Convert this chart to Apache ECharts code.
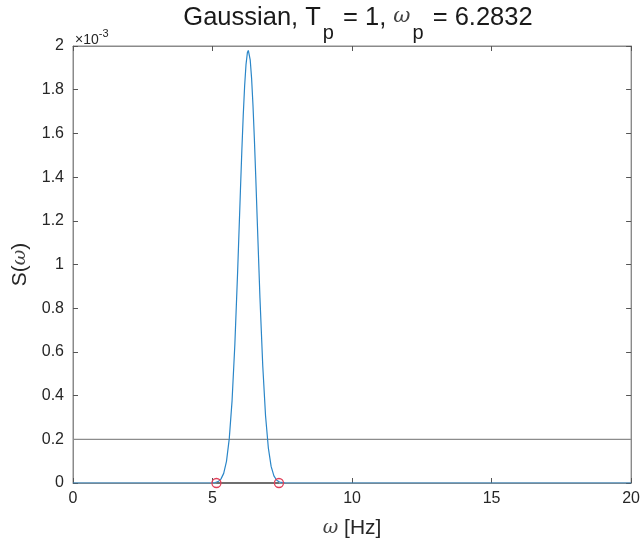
<!DOCTYPE html>
<html>
<head>
<meta charset="utf-8">
<script src="https://cdn.jsdelivr.net/npm/echarts@6/dist/echarts.min.js"></script>
<style>html,body{margin:0;padding:0;background:#fff}#c{width:643px;height:544px}</style>
</head>
<body>
<div id="c"></div>
<script>
// Spectrum S(omega), values in units of 1e-3
var omega = [0, 4.8, 5.0, 5.1, 5.2, 5.3, 5.4, 5.5, 5.6, 5.7, 5.8, 5.9, 6.0, 6.05, 6.1, 6.15, 6.2, 6.25, 6.283, 6.3, 6.35, 6.4, 6.45, 6.5, 6.55, 6.6, 6.7, 6.8, 6.9, 7.0, 7.1, 7.2, 7.3, 7.4, 7.5, 7.6, 7.8, 20];
var S = [0, 0, 0.0006, 0.0021, 0.0064, 0.0177, 0.044, 0.099, 0.203, 0.376, 0.634, 0.968, 1.339, 1.519, 1.681, 1.816, 1.915, 1.970, 1.98, 1.977, 1.937, 1.852, 1.728, 1.573, 1.398, 1.212, 0.847, 0.537, 0.308, 0.161, 0.076, 0.0326, 0.0127, 0.0045, 0.0014, 0.0004, 0, 0];
// threshold line
var thrX = [0, 20];
var thrY = [0.2, 0.2];
// band limits (markers)
var bandX = [5.14, 7.38];
var bandY = [0, 0];
var xTicks = [0, 5, 10, 15, 20];
var yTicks = [0, 0.2, 0.4, 0.6, 0.8, 1, 1.2, 1.4, 1.6, 1.8, 2];

function zip(a, b) { return a.map(function (v, i) { return [v, b[i]]; }); }

var font = 'Liberation Sans, Arial, Helvetica, sans-serif';
var greek = 'DejaVu Serif, serif';
var axisCol = '#8a8a8a';
var txtCol = '#262626';
var tickStyle = {show: true, inside: true, length: 5, lineStyle: {color: '#555', width: 1}};

var chart = echarts.init(document.getElementById('c'), null, {renderer: 'canvas'});
chart.setOption({
  animation: false,
  backgroundColor: '#fff',
  title: {
    text: '{t|Gaussian, T}{s|p}{t| = 1, }{w|ω}{s|p}{t| = 6.2832}',
    left: 353, top: 0, textAlign: 'center',
    textStyle: {
      fontWeight: 'normal',
      rich: {
        t: {fontFamily: font, fontSize: 25.5, fontWeight: 'normal', color: '#1a1a1a', lineHeight: 44, verticalAlign: 'top'},
        w: {fontFamily: greek, fontStyle: 'italic', fontWeight: 'normal', fontSize: 21, color: '#444', lineHeight: 44, padding: [1, 0, 0, 0], verticalAlign: 'top'},
        s: {fontFamily: font, fontSize: 20, fontWeight: 'normal', color: '#1a1a1a', lineHeight: 44, padding: [18, 2, 0, 2], verticalAlign: 'top'}
      }
    }
  },
  grid: {left: 73, right: 7, top: 46, bottom: 60, show: true, borderColor: axisCol, borderWidth: 1, backgroundColor: 'transparent'},
  xAxis: [{
    show: true, type: 'value', min: 0, max: 20, interval: 5, position: 'bottom',
    name: '{w|ω} [Hz]', nameLocation: 'middle', nameGap: 35,
    nameTextStyle: {rich: {w: {fontFamily: greek, fontStyle: 'italic', fontSize: 19, color: '#444'}}, fontFamily: font, fontSize: 21, color: txtCol},
    axisLine: {show: true, onZero: false, lineStyle: {color: axisCol, width: 1}},
    axisTick: tickStyle,
    axisLabel: {fontFamily: font, fontSize: 16, color: txtCol, margin: 8},
    splitLine: {show: false}
  }, {
    show: true, type: 'value', min: 0, max: 20, interval: 5, position: 'top', gridIndex: 0, offset: 0,
    axisLine: {show: true, onZero: false, lineStyle: {color: axisCol, width: 1}},
    axisTick: tickStyle,
    axisLabel: {show: false}, splitLine: {show: false}
  }],
  yAxis: [{
    show: true, type: 'value', min: 0, max: 2, interval: 0.2, position: 'left',
    name: 'S({w|ω})', nameLocation: 'middle', nameGap: 41, nameRotate: 90,
    nameTextStyle: {rich: {w: {fontFamily: greek, fontStyle: 'italic', fontSize: 19, color: '#444'}}, fontFamily: font, fontSize: 21, color: txtCol},
    axisLine: {show: true, onZero: false, lineStyle: {color: axisCol, width: 1}},
    axisTick: tickStyle,
    axisLabel: {fontFamily: font, fontSize: 16, color: txtCol, margin: 9,
      formatter: function (v) { return String(Math.round(v * 10) / 10); }},
    splitLine: {show: false}
  }, {
    show: true, type: 'value', min: 0, max: 2, interval: 0.2, position: 'right', gridIndex: 0, offset: 0,
    axisLine: {show: true, onZero: false, lineStyle: {color: axisCol, width: 1}},
    axisTick: tickStyle,
    axisLabel: {show: false}, splitLine: {show: false}
  }],
  graphic: [{
    type: 'text', left: 75, top: 28,
    style: {
      text: '{a|×10}{b|-3}',
      rich: {
        a: {fontFamily: font, fontSize: 14, fill: txtCol, lineHeight: 16, verticalAlign: 'bottom'},
        b: {fontFamily: font, fontSize: 11, fill: txtCol, padding: [0, 0, 8, 0], lineHeight: 16, verticalAlign: 'bottom'}
      }
    }
  }],
  series: [{
    type: 'line', data: zip(thrX, thrY), showSymbol: false, symbol: 'none',
    lineStyle: {color: '#8c8c8c', width: 1.2}, z: 2, silent: true
  }, {
    type: 'line', data: zip(omega, S), showSymbol: false, symbol: 'none',
    lineStyle: {color: '#2a86c8', width: 1.2}, z: 3, silent: true
  }, {
    type: 'line', data: zip(bandX, bandY), symbol: 'circle', symbolSize: 9,
    lineStyle: {color: '#6f6f6f', width: 1.8},
    itemStyle: {color: 'rgba(0,0,0,0)', borderColor: '#e0405a', borderWidth: 1.3},
    z: 4, silent: true
  }]
});
</script>
</body>
</html>
